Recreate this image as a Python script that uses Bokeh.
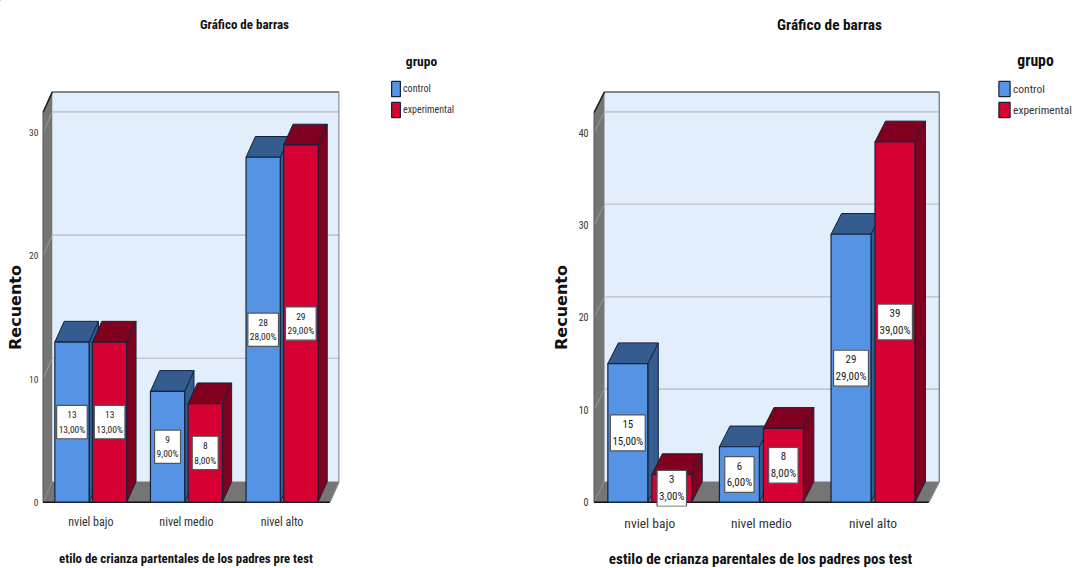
from math import pi

from bokeh.core.properties import value
from bokeh.embed import file_html
from bokeh.layouts import column, row
from bokeh.models import ColumnDataSource, FixedTicker, Label, Legend, LegendItem, Range1d
from bokeh.plotting import figure
from bokeh.resources import INLINE

categories = ["nviel bajo", "nivel medio", "nivel alto"]
groups = ["control", "experimental"]

control_pre = [13, 9, 28]
experimental_pre = [13, 8, 29]
control_post = [15, 6, 29]
experimental_post = [3, 8, 39]

ticks_pre = [0, 10, 20, 30]
ticks_post = [0, 10, 20, 30, 40]

title_text = "Gráfico de barras"
y_title = "Recuento"
x_title_pre = "etilo de crianza partentales de los padres pre test"
x_title_post = "estilo de crianza parentales de los padres pos test"

NARROW = "Roboto Condensed"
BLUE, BLUE_DARK = "#5594E4", "#355C8F"
RED, RED_DARK = "#D60032", "#80001F"
WALL = "#757575"
BACK = "#E2EEFB"
GRID = "#C3C8CE"
EDGE = "#14233A"


def chart(series, ticks, fig_w, frame_l, frame_w, front_w, px_per_unit, y_top, dx_px, font, tick_font,
          y_font, y_standoff, box_pad):
    frame_top, frame_bottom, zero_y, dy_px = 91, 506, 501.7, 20.7
    cat_w = front_w / 3
    x_start = -1.5 / cat_w
    dx = dx_px / cat_w
    dy = dy_px / px_per_unit

    p = figure(
        width=fig_w, height=568, output_backend="svg", toolbar_location=None,
        frame_width=frame_w, frame_height=frame_bottom - frame_top,
        min_border_left=frame_l, min_border_right=fig_w - frame_l - frame_w,
        min_border_top=frame_top, min_border_bottom=568 - frame_bottom,
        x_range=Range1d(x_start, x_start + frame_w / cat_w),
        y_range=Range1d(-(frame_bottom - zero_y) / px_per_unit, (zero_y - frame_top) / px_per_unit),
    )
    p.grid.visible = False
    p.outline_line_color = None
    p.background_fill_color = "white"

    # Box walls behind the bars
    p.quad(left=dx, right=3 + dx, bottom=dy, top=y_top + dy, fill_color=BACK, line_color=None)
    p.patch([0, dx, dx, 0], [0, dy, y_top + dy, y_top], fill_color=WALL, line_color=None)
    p.patch([0, 3, 3 + dx, dx], [0, 0, dy, dy], fill_color=WALL, line_color=None)
    for v in ticks + [ticks[-1] + 10]:
        if 0 < v <= y_top:
            p.line([0, dx], [v, v + dy], line_color="#9A9A9A", line_width=1)
            p.line([dx, 3 + dx], [v + dy, v + dy], line_color=GRID, line_width=1.6)
    p.line([0, dx, 3 + dx], [y_top, y_top + dy, y_top + dy], line_color="#1A1A1A", line_width=1.5)
    p.line([3 + dx, 3 + dx, 3], [y_top + dy, dy, 0], line_color="#7F8790", line_width=1.5)
    p.line([0, 0], [0, y_top], line_color="#555555", line_width=1)
    p.line([0, 3], [0, 0], line_color="#111111", line_width=1.5)

    # Extruded bars, painted left to right so each hides its neighbour's depth
    bar_w = 0.358
    offsets = [-0.197, 0.197]
    colors = [(BLUE, BLUE_DARK), (RED, RED_DARK)]
    label_x, label_y, label_t = [], [], []
    for c in range(len(categories)):
        for s, vals in enumerate(series):
            v = vals[c]
            left = c + 0.5 + offsets[s] - bar_w / 2
            right = left + bar_w
            face, dark = colors[s]
            p.patch([right, right + dx, right + dx, right], [0, dy, v + dy, v],
                    fill_color=dark, line_color=EDGE, line_width=1)
            p.patch([left, left + dx, right + dx, right], [v, v + dy, v + dy, v],
                    fill_color=dark, line_color=EDGE, line_width=1)
            p.vbar(x=c + 0.5 + offsets[s], width=bar_w, bottom=0, top=v,
                   fill_color=face, line_color=EDGE, line_width=1.2)
            label_x.append(c + 0.5 + offsets[s])
            label_y.append(v / 2)
            label_t.append(f"{v}\n{v},00%")

    # White count and percentage boxes centred on each bar
    src = ColumnDataSource(dict(x=label_x, y=label_y, t=label_t))
    p.text(x="x", y="y", text="t", source=src, text_font=value(NARROW), text_font_size=f"{font}px",
           text_color="#1A1A1A", text_align="center", text_baseline="middle", text_line_height=1.3,
           background_fill_color="white", border_line_color="#555555", border_line_width=1.2,
           padding=box_pad)

    p.yaxis.ticker = FixedTicker(ticks=ticks)
    p.yaxis.axis_line_color = None
    p.yaxis.major_tick_line_color = None
    p.yaxis.minor_tick_line_color = None
    p.yaxis.major_tick_out = 0
    p.yaxis.major_tick_in = 0
    p.yaxis.major_label_standoff = y_standoff
    p.yaxis.major_label_text_font = NARROW
    p.yaxis.major_label_text_font_size = f"{y_font}px"
    p.yaxis.major_label_text_color = "#333333"

    p.xaxis.ticker = FixedTicker(ticks=[i + 0.5 for i in range(len(categories))])
    p.xaxis.major_label_overrides = {i + 0.5: name for i, name in enumerate(categories)}
    p.xaxis.axis_line_color = None
    p.xaxis.major_tick_line_color = None
    p.xaxis.minor_tick_line_color = None
    p.xaxis.major_tick_out = 0
    p.xaxis.major_tick_in = 0
    p.xaxis.major_label_standoff = 8
    p.xaxis.major_label_text_font = NARROW
    p.xaxis.major_label_text_font_size = f"{tick_font}px"
    p.xaxis.major_label_text_color = "#333333"
    return p


left = chart([control_pre, experimental_pre], ticks_pre,
             fig_w=536, frame_l=41, frame_w=298, front_w=286.8, px_per_unit=12.32, y_top=31.63,
             dx_px=9.3, font=9.5, tick_font=12, y_font=9.5, y_standoff=3, box_pad=(2, 4))
right = chart([control_post, experimental_post], ticks_post,
              fig_w=536, frame_l=56, frame_w=348, front_w=334.8, px_per_unit=9.24, y_top=42.17,
              dx_px=10.5, font=11, tick_font=13.5, y_font=10, y_standoff=4, box_pad=(2, 3))

# Transparent sheet over both charts carrying titles and legends, in window pixels
sheet = figure(width=1072, height=568, output_backend="svg", toolbar_location=None, min_border=0,
               x_range=Range1d(0, 1072), y_range=Range1d(568, 0), x_axis_type=None, y_axis_type=None,
               background_fill_color=None, border_fill_color=None, outline_line_color=None,
               margin=(-568, 0, 0, 0))
sheet.grid.visible = False


def note(text, x, y, size, font_name=NARROW, angle=0.0):
    sheet.add_layout(Label(x=x, y=y, text=text, angle=angle, text_font=font_name,
                           text_font_size=f"{size}px", text_font_style="bold", text_color="#111111",
                           text_align="center", text_baseline="middle"))


for t_x, t_size, g_x, g_size, xt, xt_x, xt_size, yt_x in [
    (244, 13, 421, 13.5, x_title_pre, 185.5, 12.8, 15),
    (829, 15.3, 1035, 15.7, x_title_post, 760, 15.1, 561),
]:
    note(title_text, t_x, 24, t_size)
    note("grupo", g_x, 60, g_size)
    note(xt, xt_x, 558, xt_size)
    note(y_title, yt_x, 307, 16, "DejaVu Sans", pi / 2)

# Legend keys sit outside the sheet's range, so only their legend swatches show
blue_key = sheet.vbar(x=[-100], width=1, top=[-100], fill_color=BLUE, line_color=EDGE, line_width=1.2)
red_key = sheet.vbar(x=[-100], width=1, top=[-100], fill_color=RED, line_color=EDGE, line_width=1.2)
for lx, size, glyph_w in [(390, 10, 11), (997, 11.5, 14)]:
    sheet.add_layout(Legend(
        items=[LegendItem(label=groups[0], renderers=[blue_key]), LegendItem(label=groups[1], renderers=[red_key])],
        location=(lx, 568 - 119),
        glyph_width=glyph_w, glyph_height=19, spacing=2, label_standoff=2, padding=0, margin=0,
        border_line_color=None, background_fill_color=None,
        label_text_font=NARROW, label_text_font_size=f"{size}px", label_text_color="#333333",
    ), "center")

page = column(row(left, right, spacing=0), sheet, spacing=0)
open("out.html", "w").write(file_html(page, INLINE))
